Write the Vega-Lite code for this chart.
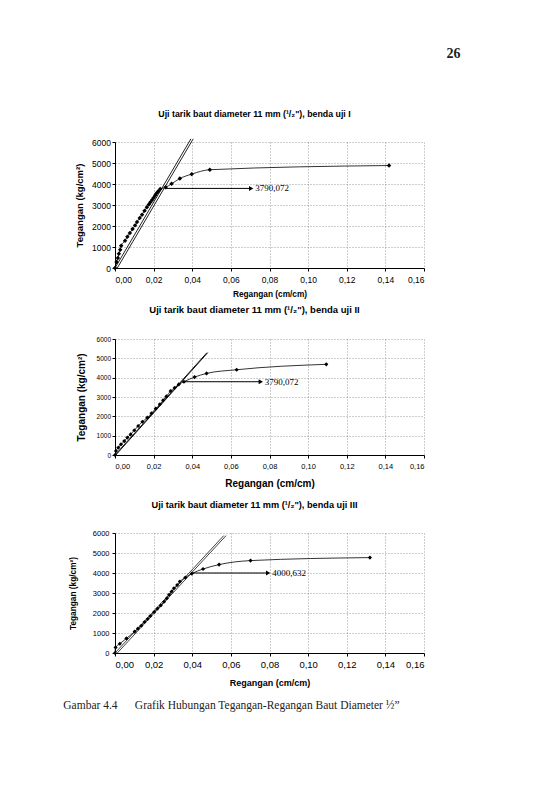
{
  "$schema": "https://vega.github.io/schema/vega-lite/v6.json",
  "background": "white",
  "padding": {"left": 63, "top": 47, "right": 5, "bottom": 5},
  "title": {"text": "26", "anchor": "end", "font": "Liberation Serif", "fontSize": 14, "fontWeight": "bold", "color": "#222", "offset": 49, "dx": 36},
  "datasets": {
    "kurva": [
      {"uji": "I", "regangan": 0, "tegangan": 0},
      {"uji": "I", "regangan": 0.0008, "tegangan": 290},
      {"uji": "I", "regangan": 0.0015, "tegangan": 480},
      {"uji": "I", "regangan": 0.002, "tegangan": 680},
      {"uji": "I", "regangan": 0.0027, "tegangan": 870},
      {"uji": "I", "regangan": 0.0032, "tegangan": 1060},
      {"uji": "I", "regangan": 0.0052, "tegangan": 1300},
      {"uji": "I", "regangan": 0.0064, "tegangan": 1490},
      {"uji": "I", "regangan": 0.0077, "tegangan": 1670},
      {"uji": "I", "regangan": 0.0091, "tegangan": 1860},
      {"uji": "I", "regangan": 0.0104, "tegangan": 2030},
      {"uji": "I", "regangan": 0.0114, "tegangan": 2190},
      {"uji": "I", "regangan": 0.0128, "tegangan": 2380},
      {"uji": "I", "regangan": 0.014, "tegangan": 2540},
      {"uji": "I", "regangan": 0.0153, "tegangan": 2730},
      {"uji": "I", "regangan": 0.0165, "tegangan": 2890},
      {"uji": "I", "regangan": 0.0175, "tegangan": 3020},
      {"uji": "I", "regangan": 0.0183, "tegangan": 3130},
      {"uji": "I", "regangan": 0.0192, "tegangan": 3240},
      {"uji": "I", "regangan": 0.02, "tegangan": 3350},
      {"uji": "I", "regangan": 0.0208, "tegangan": 3460},
      {"uji": "I", "regangan": 0.0215, "tegangan": 3555},
      {"uji": "I", "regangan": 0.0224, "tegangan": 3650},
      {"uji": "I", "regangan": 0.0234, "tegangan": 3760},
      {"uji": "I", "regangan": 0.0262, "tegangan": 3840},
      {"uji": "I", "regangan": 0.0293, "tegangan": 4010},
      {"uji": "I", "regangan": 0.0336, "tegangan": 4260},
      {"uji": "I", "regangan": 0.0397, "tegangan": 4470},
      {"uji": "I", "regangan": 0.0491, "tegangan": 4680},
      {"uji": "I", "regangan": 0.1419, "tegangan": 4880},
      {"uji": "II", "regangan": 0, "tegangan": 0},
      {"uji": "II", "regangan": 0.0005, "tegangan": 210},
      {"uji": "II", "regangan": 0.0017, "tegangan": 380},
      {"uji": "II", "regangan": 0.0031, "tegangan": 550},
      {"uji": "II", "regangan": 0.0048, "tegangan": 720},
      {"uji": "II", "regangan": 0.0064, "tegangan": 900},
      {"uji": "II", "regangan": 0.0081, "tegangan": 1070},
      {"uji": "II", "regangan": 0.01, "tegangan": 1280},
      {"uji": "II", "regangan": 0.012, "tegangan": 1500},
      {"uji": "II", "regangan": 0.0142, "tegangan": 1720},
      {"uji": "II", "regangan": 0.0167, "tegangan": 1930},
      {"uji": "II", "regangan": 0.0189, "tegangan": 2160},
      {"uji": "II", "regangan": 0.0211, "tegangan": 2400},
      {"uji": "II", "regangan": 0.0232, "tegangan": 2620},
      {"uji": "II", "regangan": 0.0249, "tegangan": 2830},
      {"uji": "II", "regangan": 0.0266, "tegangan": 3030},
      {"uji": "II", "regangan": 0.0288, "tegangan": 3310},
      {"uji": "II", "regangan": 0.0309, "tegangan": 3480},
      {"uji": "II", "regangan": 0.033, "tegangan": 3650},
      {"uji": "II", "regangan": 0.0357, "tegangan": 3790},
      {"uji": "II", "regangan": 0.0412, "tegangan": 4030},
      {"uji": "II", "regangan": 0.0474, "tegangan": 4220},
      {"uji": "II", "regangan": 0.063, "tegangan": 4410},
      {"uji": "II", "regangan": 0.1094, "tegangan": 4690},
      {"uji": "III", "regangan": 0, "tegangan": 0},
      {"uji": "III", "regangan": 0.0003, "tegangan": 280},
      {"uji": "III", "regangan": 0.0025, "tegangan": 460},
      {"uji": "III", "regangan": 0.0059, "tegangan": 730},
      {"uji": "III", "regangan": 0.0102, "tegangan": 1070},
      {"uji": "III", "regangan": 0.0119, "tegangan": 1220},
      {"uji": "III", "regangan": 0.0136, "tegangan": 1360},
      {"uji": "III", "regangan": 0.0153, "tegangan": 1550},
      {"uji": "III", "regangan": 0.0169, "tegangan": 1700},
      {"uji": "III", "regangan": 0.0183, "tegangan": 1850},
      {"uji": "III", "regangan": 0.0203, "tegangan": 2050},
      {"uji": "III", "regangan": 0.022, "tegangan": 2220},
      {"uji": "III", "regangan": 0.0237, "tegangan": 2380},
      {"uji": "III", "regangan": 0.0254, "tegangan": 2560},
      {"uji": "III", "regangan": 0.0268, "tegangan": 2730},
      {"uji": "III", "regangan": 0.028, "tegangan": 2910},
      {"uji": "III", "regangan": 0.0293, "tegangan": 3070},
      {"uji": "III", "regangan": 0.0305, "tegangan": 3240},
      {"uji": "III", "regangan": 0.0322, "tegangan": 3400},
      {"uji": "III", "regangan": 0.0336, "tegangan": 3570},
      {"uji": "III", "regangan": 0.0364, "tegangan": 3770},
      {"uji": "III", "regangan": 0.0398, "tegangan": 3970},
      {"uji": "III", "regangan": 0.0456, "tegangan": 4200},
      {"uji": "III", "regangan": 0.0539, "tegangan": 4420},
      {"uji": "III", "regangan": 0.0702, "tegangan": 4620},
      {"uji": "III", "regangan": 0.132, "tegangan": 4770}
    ],
    "garis": [
      {"uji": "I", "regangan": 0, "tegangan": 0, "regangan2": 0.0393, "tegangan2": 6150},
      {"uji": "I", "regangan": 0.0012, "tegangan": 0, "regangan2": 0.0405, "tegangan2": 6150},
      {"uji": "II", "regangan": 0, "tegangan": 0, "regangan2": 0.0476, "tegangan2": 5290},
      {"uji": "II", "regangan": 0.0004, "tegangan": 0, "regangan2": 0.048, "tegangan2": 5290},
      {"uji": "III", "regangan": 0, "tegangan": 0, "regangan2": 0.0563, "tegangan2": 5870},
      {"uji": "III", "regangan": 0.0012, "tegangan": 0, "regangan2": 0.0575, "tegangan2": 5870}
    ],
    "panah": [
      {"uji": "I", "regangan": 0.0259, "tegangan": 3790, "regangan2": 0.0705, "label": "3790,072"},
      {"uji": "II", "regangan": 0.0357, "tegangan": 3790, "regangan2": 0.0755, "label": "3790,072"},
      {"uji": "III", "regangan": 0.04, "tegangan": 4000, "regangan2": 0.0793, "label": "4000,632"}
    ]
  },
  "config": {
    "font": "Liberation Sans",
    "view": {"stroke": null},
    "title": {"font": "Liberation Sans", "fontWeight": "bold", "color": "black"},
    "axis": {
      "labelFont": "Liberation Sans",
      "labelColor": "black",
      "titleFont": "Liberation Sans",
      "titleColor": "black",
      "titleFontWeight": "bold",
      "domainColor": "black",
      "domainWidth": 1,
      "tickColor": "black",
      "tickSize": 3,
      "gridColor": "#808080",
      "gridDash": [1, 2],
      "gridWidth": 0.8
    },
    "axisX": {"labelExpr": "replace(format(datum.value, '.2f'), '.', ',')"},
    "axisY": {"format": "d"}
  },
  "vconcat": [
    {
      "spacing": 12,
      "title": {"text": "Gambar 4.4\u00a0\u00a0\u00a0\u00a0\u00a0\u00a0Grafik Hubungan Tegangan-Regangan Baut Diameter \u00bd\u201d", "orient": "bottom", "anchor": "start", "font": "Liberation Serif", "fontSize": 11.5, "fontWeight": "normal", "color": "#222", "offset": 12, "dx": -5},
      "vconcat": [
        {
          "spacing": 7,
          "vconcat": [
            {
              "width": 309,
              "height": 126,
              "title": {"text": "Uji tarik baut diameter 11 mm (\u00b9/\u2082\"), benda uji I", "fontSize": 8.8, "offset": 19, "dx": -15},
              "encoding": {
                "x": {"field": "regangan", "type": "quantitative", "scale": {"domain": [0, 0.16], "nice": false},
                  "axis": {"values": [0, 0.02, 0.04, 0.06, 0.08, 0.1, 0.12, 0.14, 0.16], "labelFontSize": 8.5, "labelPadding": 4, "title": "Regangan (cm/cm)", "titleFontSize": 8.3, "titlePadding": 6}},
                "y": {"field": "tegangan", "type": "quantitative", "scale": {"domain": [0, 6000], "nice": false},
                  "axis": {"values": [0, 1000, 2000, 3000, 4000, 5000, 6000], "labelFontSize": 8.5, "labelPadding": 1.5, "title": "Tegangan (kg/cm\u00b2)", "titleFontSize": 9.5, "titlePadding": 7}}
              },
              "layer": [
                {"data": {"name": "garis"}, "transform": [{"filter": "datum.uji == 'I'"}], "mark": {"type": "rule", "color": "#222", "strokeWidth": 1, "clip": false}, "encoding": {"x2": {"field": "regangan2"}, "y2": {"field": "tegangan2"}}},
                {"data": {"name": "kurva"}, "transform": [{"filter": "datum.uji == 'I'"}], "mark": {"type": "line", "interpolate": "monotone", "color": "black", "strokeWidth": 0.8}},
                {"data": {"name": "kurva"}, "transform": [{"filter": "datum.uji == 'I'"}], "mark": {"type": "point", "shape": "diamond", "filled": true, "color": "black", "size": 20, "opacity": 1}},
                {"data": {"name": "panah"}, "transform": [{"filter": "datum.uji == 'I'"}], "mark": {"type": "rule", "color": "black", "strokeWidth": 1}, "encoding": {"x2": {"field": "regangan2"}}},
                {"data": {"name": "panah"}, "transform": [{"filter": "datum.uji == 'I'"}], "mark": {"type": "point", "shape": "triangle-right", "filled": true, "color": "black", "size": 25, "opacity": 1}, "encoding": {"x": {"field": "regangan2", "type": "quantitative", "title": "Regangan (cm/cm)"}}},
                {"data": {"name": "panah"}, "transform": [{"filter": "datum.uji == 'I'"}], "mark": {"type": "text", "align": "left", "baseline": "middle", "dx": 4, "font": "Liberation Serif", "fontSize": 9, "color": "black"}, "encoding": {"x": {"field": "regangan2", "type": "quantitative", "title": "Regangan (cm/cm)"}, "text": {"field": "label"}}}
              ]
            },
            {
              "width": 309,
              "height": 116,
              "title": {"text": "Uji tarik baut diameter 11 mm (\u00b9/\u2082\"), benda uji II", "fontSize": 9.5, "offset": 21.5, "dx": -15},
              "encoding": {
                "x": {"field": "regangan", "type": "quantitative", "scale": {"domain": [0, 0.16], "nice": false},
                  "axis": {"values": [0, 0.02, 0.04, 0.06, 0.08, 0.1, 0.12, 0.14, 0.16], "labelFontSize": 7.5, "labelPadding": 4, "title": "Regangan (cm/cm)", "titleFontSize": 10, "titlePadding": 9}},
                "y": {"field": "tegangan", "type": "quantitative", "scale": {"domain": [0, 6000], "nice": false},
                  "axis": {"values": [0, 1000, 2000, 3000, 4000, 5000, 6000], "labelFontSize": 6.5, "labelPadding": 1.5, "title": "Tegangan (kg/cm\u00b2)", "titleFontSize": 10, "titlePadding": 10}}
              },
              "layer": [
                {"data": {"name": "garis"}, "transform": [{"filter": "datum.uji == 'II'"}], "mark": {"type": "rule", "color": "#111", "strokeWidth": 1, "clip": false}, "encoding": {"x2": {"field": "regangan2"}, "y2": {"field": "tegangan2"}}},
                {"data": {"name": "kurva"}, "transform": [{"filter": "datum.uji == 'II'"}], "mark": {"type": "line", "interpolate": "monotone", "color": "black", "strokeWidth": 0.8}},
                {"data": {"name": "kurva"}, "transform": [{"filter": "datum.uji == 'II'"}], "mark": {"type": "point", "shape": "diamond", "filled": true, "color": "black", "size": 17, "opacity": 1}},
                {"data": {"name": "panah"}, "transform": [{"filter": "datum.uji == 'II'"}], "mark": {"type": "rule", "color": "black", "strokeWidth": 1}, "encoding": {"x2": {"field": "regangan2"}}},
                {"data": {"name": "panah"}, "transform": [{"filter": "datum.uji == 'II'"}], "mark": {"type": "point", "shape": "triangle-right", "filled": true, "color": "black", "size": 25, "opacity": 1}, "encoding": {"x": {"field": "regangan2", "type": "quantitative", "title": "Regangan (cm/cm)"}}},
                {"data": {"name": "panah"}, "transform": [{"filter": "datum.uji == 'II'"}], "mark": {"type": "text", "align": "left", "baseline": "middle", "dx": 4, "font": "Liberation Serif", "fontSize": 9, "color": "black"}, "encoding": {"x": {"field": "regangan2", "type": "quantitative", "title": "Regangan (cm/cm)"}, "text": {"field": "label"}}}
              ]
            }
          ]
        },
        {
          "width": 309,
          "height": 120,
          "title": {"text": "Uji tarik baut diameter 11 mm (\u00b9/\u2082\"), benda uji III", "fontSize": 9.2, "offset": 18.6, "dx": -15},
          "encoding": {
            "x": {"field": "regangan", "type": "quantitative", "scale": {"domain": [0, 0.16], "nice": false},
              "axis": {"values": [0, 0.02, 0.04, 0.06, 0.08, 0.1, 0.12, 0.14, 0.16], "labelFontSize": 9.5, "labelPadding": 3.5, "title": "Regangan (cm/cm)", "titleFontSize": 9, "titlePadding": 9.5}},
            "y": {"field": "tegangan", "type": "quantitative", "scale": {"domain": [0, 6000], "nice": false},
              "axis": {"values": [0, 1000, 2000, 3000, 4000, 5000, 6000], "labelFontSize": 7.5, "labelPadding": 3, "title": "Tegangan (kg/cm\u00b2)", "titleFontSize": 8.3, "titlePadding": 15}}
          },
          "layer": [
            {"data": {"name": "garis"}, "transform": [{"filter": "datum.uji == 'III'"}], "mark": {"type": "rule", "color": "#444", "strokeWidth": 1, "clip": false}, "encoding": {"x2": {"field": "regangan2"}, "y2": {"field": "tegangan2"}}},
            {"data": {"name": "kurva"}, "transform": [{"filter": "datum.uji == 'III'"}], "mark": {"type": "line", "interpolate": "monotone", "color": "black", "strokeWidth": 0.8}},
            {"data": {"name": "kurva"}, "transform": [{"filter": "datum.uji == 'III'"}], "mark": {"type": "point", "shape": "diamond", "filled": true, "color": "black", "size": 17, "opacity": 1}},
            {"data": {"name": "panah"}, "transform": [{"filter": "datum.uji == 'III'"}], "mark": {"type": "rule", "color": "black", "strokeWidth": 1}, "encoding": {"x2": {"field": "regangan2"}}},
            {"data": {"name": "panah"}, "transform": [{"filter": "datum.uji == 'III'"}], "mark": {"type": "point", "shape": "triangle-right", "filled": true, "color": "black", "size": 25, "opacity": 1}, "encoding": {"x": {"field": "regangan2", "type": "quantitative", "title": "Regangan (cm/cm)"}}},
            {"data": {"name": "panah"}, "transform": [{"filter": "datum.uji == 'III'"}], "mark": {"type": "text", "align": "left", "baseline": "middle", "dx": 4, "font": "Liberation Serif", "fontSize": 9, "color": "black"}, "encoding": {"x": {"field": "regangan2", "type": "quantitative", "title": "Regangan (cm/cm)"}, "text": {"field": "label"}}}
          ]
        }
      ]
    }
  ]
}
